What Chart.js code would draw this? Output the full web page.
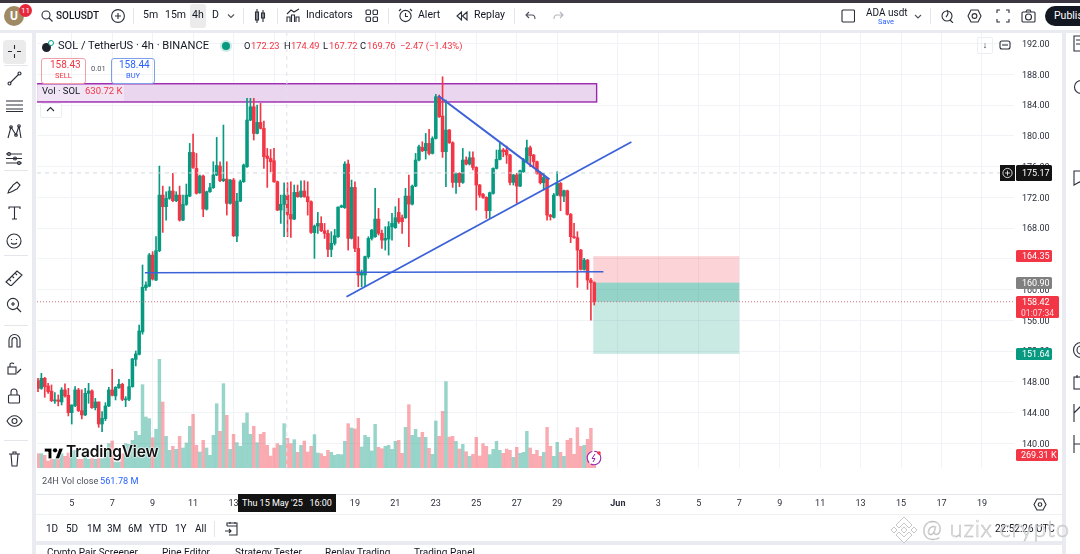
<!DOCTYPE html>
<html>
<head>
<meta charset="utf-8">
<title>SOLUSDT 4h</title>
<script src="https://cdn.jsdelivr.net/npm/chart.js@4/dist/chart.umd.min.js"></script>
<style>
  html, body { margin: 0; padding: 0; width: 1080px; height: 554px; overflow: hidden; background: #e9ebf0; font-family: Roboto, "Open Sans", sans-serif; color: #131722; }
  .panel { position: absolute; background: #fff; }
  #chart { position: absolute; left: 0; top: 0; z-index: 2; }
  .t { position: absolute; white-space: nowrap; z-index: 5; line-height: 1; }
  .ico { position: absolute; z-index: 5; fill: none; stroke: #2a2e39; stroke-width: 1.1; }
  .sep { position: absolute; width: 1px; background: #e4e6ec; z-index: 5; }
</style>
</head>
<body>
<div class="panel" style="left:0;top:0;width:1080px;height:3px;background:#3b3640"></div>
<div class="panel" style="left:0;top:3px;width:1080px;height:27px"></div>
<div class="panel" style="left:0;top:33px;width:32px;height:521px"></div>
<div class="panel" style="left:36px;top:33px;width:1026px;height:508px"></div>
<div class="panel" style="left:1066px;top:33px;width:14px;height:521px"></div>
<div class="panel" style="left:36px;top:545px;width:1026px;height:9px"></div>
<div class="panel" style="left:36px;top:494px;width:1026px;height:1px;background:#e4e6ec;z-index:3"></div>
<div class="panel" style="left:36px;top:514px;width:1026px;height:1px;background:#eef0f4;z-index:3"></div>
<div class="panel" style="left:190px;top:4px;width:16px;height:24px;background:#ebebeb;border-radius:3px"></div>
<div class="panel" style="left:3px;top:40px;width:23px;height:24px;background:#ebebeb;border-radius:4px"></div>
<canvas id="chart" width="1080" height="554"></canvas>
<div id="chrome"></div>
<script>
// SOL / TetherUS 4h, candles (bar 0 is the leftmost one)
const opens = [148.16,147.16,148.46,147.47,146.8,145.52,145.65,145.39,146.95,146.25,144.0,144.91,146.95,144.26,143.7,146.51,146.82,144.65,145.39,142.52,143.22,144.87,146.95,146.17,147.25,147.68,145.65,145.73,147.38,150.93,151.58,154.5,160.25,160.46,164.49,161.24,165.06,172.29,170.78,171.86,172.82,171.56,172.29,169.04,171.08,172.16,177.84,175.76,172.6,174.77,170.47,172.73,173.25,174.9,176.07,174.16,174.38,171.21,174.25,166.96,171.51,174.03,175.98,182.05,183.78,180.31,181.74,180.96,177.37,177.06,176.76,174.03,170.34,171.08,172.29,169.78,169.17,172.64,172.08,172.82,172.08,171.43,167.4,168.26,168.61,167.66,167.31,165.23,166.01,166.88,170.73,170.65,176.33,166.66,173.29,165.36,161.89,161.89,164.28,166.66,166.88,169.17,167.31,166.44,166.57,168.18,168.05,170.04,169.35,169.35,172.16,171.12,173.46,176.85,178.49,178.06,179.01,177.71,179.66,185.08,182.57,177.93,180.75,179.1,173.94,175.11,173.94,176.85,176.33,177.15,175.89,173.6,172.38,172.0,170.26,172.51,175.76,176.93,178.15,178.15,177.5,173.94,174.9,173.46,175.33,176.63,178.45,177.5,176.63,175.2,173.9,174.46,169.69,169.39,172.29,173.81,172.16,172.86,169.78,166.88,166.75,165.14,162.63,163.84,161.24,160.9];
const highs = [148.46,149.11,148.59,147.81,147.6,146.6,146.3,147.25,147.73,147.16,145.0,147.38,147.16,146.95,147.16,147.81,146.95,145.86,145.39,144.13,145.3,147.3,149.63,147.38,148.33,147.81,146.08,148.33,151.06,152.02,155.4,163.2,161.0,164.7,164.93,166.88,176.07,173.46,172.73,173.38,175.11,172.73,173.46,172.29,173.73,179.01,180.23,177.71,174.9,174.9,172.82,173.81,176.63,179.79,176.63,181.4,176.63,174.33,174.46,172.51,174.25,176.33,184.87,184.87,184.87,184.0,184.22,181.92,178.36,178.23,178.36,174.12,172.29,173.9,173.9,174.03,173.6,173.6,174.16,174.16,174.03,171.56,168.4,170.04,169.48,168.61,167.74,167.53,167.83,170.78,171.0,176.63,176.85,174.25,174.03,166.88,162.54,164.36,166.88,167.83,173.16,170.56,167.74,168.18,168.83,169.91,170.78,171.86,169.69,173.16,174.9,173.6,177.71,178.8,179.23,180.31,180.83,179.88,185.39,185.3,187.68,184.65,180.83,179.23,175.2,175.2,178.36,177.28,177.93,177.93,175.98,173.68,172.51,172.08,172.69,175.85,178.15,179.01,178.36,178.67,177.58,174.98,175.11,175.55,177.06,179.45,178.67,177.58,176.72,175.29,175.11,174.55,169.78,172.51,175.33,173.94,172.94,172.94,169.91,168.61,167.53,165.23,164.06,163.93,161.46,161.02];
const lows = [146.73,147.03,146.0,146.51,145.43,145.21,144.87,145.0,146.0,143.57,142.52,144.78,144.13,143.17,143.61,145.21,144.56,144.35,142.09,141.53,142.96,144.78,146.17,145.65,147.16,145.56,144.78,145.56,147.3,150.07,151.5,154.2,159.9,160.37,161.24,161.15,164.93,167.44,169.04,171.73,171.43,171.43,168.91,168.96,170.95,172.08,175.76,172.42,172.51,169.48,170.34,172.64,173.16,174.81,174.03,174.03,169.69,171.12,166.88,166.23,171.43,173.94,175.89,181.96,179.45,180.23,180.88,175.76,173.29,175.33,173.94,170.26,168.61,166.88,166.88,166.79,169.09,172.0,172.0,172.0,169.69,167.31,164.06,167.31,167.53,166.66,164.28,164.28,165.79,166.79,170.65,170.56,165.14,166.57,164.93,160.37,160.37,160.37,164.06,166.44,166.79,167.09,165.36,165.14,164.49,166.44,167.96,168.61,167.31,169.26,165.58,171.0,173.38,176.72,177.93,176.98,177.5,177.63,179.58,182.39,177.19,173.38,179.01,173.29,172.51,173.38,173.81,176.2,176.2,175.55,170.34,172.0,171.86,169.26,169.26,172.42,175.68,176.85,177.28,176.41,173.6,173.6,171.21,173.38,175.24,176.54,175.98,175.98,175.02,173.73,172.94,169.04,169.04,169.3,172.21,170.26,171.43,169.69,166.1,166.66,160.29,162.54,162.54,160.03,156.04,158.0];
const closes = [147.16,148.46,147.38,146.73,145.56,145.65,145.47,146.95,146.17,144.0,145.0,146.95,144.26,143.7,146.51,146.82,144.65,145.39,142.52,143.26,144.87,146.95,146.25,147.3,147.68,145.73,145.73,147.38,150.98,151.63,154.62,160.3,160.6,164.49,161.37,165.06,172.29,170.78,171.86,172.82,171.56,172.29,169.04,171.08,172.29,177.84,175.89,172.51,174.77,170.47,172.73,173.25,174.9,176.15,174.16,174.38,171.21,174.25,167.01,171.51,174.03,176.2,182.05,183.78,180.31,181.74,180.96,177.28,177.06,176.63,174.03,170.34,171.08,172.29,169.78,169.17,172.64,172.08,172.82,172.08,171.43,167.44,168.26,168.61,167.66,167.31,165.23,166.01,167.01,170.73,170.91,176.33,166.66,173.29,165.36,161.89,162.2,164.28,166.66,167.74,169.17,167.31,166.44,166.66,168.18,168.61,169.35,168.83,168.83,172.16,171.12,173.46,176.85,178.58,178.06,179.01,177.71,179.66,185.08,182.48,177.93,180.75,179.1,173.94,175.11,173.94,176.85,176.33,177.15,175.89,173.6,172.29,172.0,170.26,172.6,175.76,176.93,178.15,177.93,177.5,173.94,174.9,173.46,175.46,176.85,178.45,177.41,176.63,175.11,173.9,174.59,169.69,169.48,172.29,173.81,172.16,172.86,169.78,166.88,166.75,165.14,162.63,163.84,161.24,160.9,158.42];
// volume in thousands of SOL
const volumes = [305,305,269,149,184,184,184,305,248,319,355,376,184,184,376,184,199,184,199,199,411,518,574,128,128,305,518,503,588,780,695,1773,1085,1049,645,822,2311,1404,674,376,461,397,674,425,532,886,1141,482,340,588,425,269,695,1368,780,1794,1120,397,716,539,461,957,1170,716,886,539,716,759,482,255,425,518,482,943,631,518,603,333,482,574,340,461,709,319,305,248,376,333,269,291,284,567,943,851,830,1056,447,695,652,362,929,440,411,461,482,397,567,588,312,865,1347,695,822,652,759,652,418,291,1000,674,1205,1836,659,674,567,404,503,347,248,291,652,255,518,461,284,397,567,376,312,404,376,227,440,312,333,780,425,291,376,248,333,865,461,248,546,333,248,588,631,291,858,461,482,610,844,269];

// axis ticks: bars where a day starts, every second day
const dayTickBars = [10,22,34,46,58,70,82,94,106,118,130,142,154,172,184,196,208,220,232,244,256,268,280];
const dayTickLabels = ['5','7','9','11','13','15','17','19','21','23','25','27','29','Jun','3','5','7','9','11','13','15','17','19'];
const priceTicks = [192,188,184,180,176,172,168,164,160,156,152,148,144,140];

// drawings on the chart, in bar index / price
const resistanceBox = { from: -1, to: 165.7, top: 186.77, bottom: 184.4 };
const shortSide = { from: 164.7, to: 208, stop: 164.35, entry: 160.9, target: 151.64 };
const lastPrice = 158.42;
const crosshairPrice = 175.17;
const crosshairBar = 73.8;
const supportLine = [{ x: 31.7, y: 162.2 }, { x: 167.7, y: 162.33 }];
const risingLine = [{ x: 91.5, y: 159.07 }, { x: 176, y: 179.19 }];
const fallingLine = [{ x: 118.8, y: 185.17 }, { x: 151.7, y: 174.34 }];
const priceTags = [
  { value: 175.17, text: '175.17', bg: '#131313' },
  { value: 164.35, text: '164.35', bg: '#f23645' },
  { value: 160.9, text: '160.90', bg: '#808080' },
  { value: 151.64, text: '151.64', bg: '#089981' },
];

const xMin = -0.3, xMax = 289.5, yMin = 136.8, yMax = 193.37, volMax = 9252;
const UP = '#089981', DOWN = '#f23645';
const bars = closes.map((c, i) => i);
const isUp = (i) => closes[i] >= opens[i];

const drawingsPlugin = {
  id: 'drawings',
  beforeDatasetsDraw(chart) {
    const { ctx, scales: { x, y }, chartArea: a } = chart;
    ctx.save();
    ctx.beginPath();
    ctx.rect(a.left, a.top, a.width, a.height);
    ctx.clip();
    const box = (b, fill, stroke) => {
      const x0 = x.getPixelForValue(b.from), x1 = x.getPixelForValue(b.to);
      const y0 = y.getPixelForValue(b.top), y1 = y.getPixelForValue(b.bottom);
      ctx.fillStyle = fill;
      ctx.fillRect(x0, y0, x1 - x0, y1 - y0);
      if (stroke) {
        ctx.strokeStyle = stroke;
        ctx.lineWidth = 1.4;
        ctx.strokeRect(x0, y0, x1 - x0, y1 - y0);
      }
    };
    box(resistanceBox, '#ead6ef', '#9c27b0');
    box({ from: shortSide.from, to: shortSide.to, top: shortSide.stop, bottom: shortSide.entry }, 'rgba(242,54,69,0.22)');
    box({ from: shortSide.from, to: shortSide.to, top: shortSide.entry, bottom: shortSide.target }, 'rgba(8,153,129,0.22)');
    box({ from: shortSide.from, to: shortSide.to, top: shortSide.entry, bottom: lastPrice }, 'rgba(8,153,129,0.28)');
    ctx.restore();
  },
  afterDraw(chart) {
    const { ctx, scales: { y } } = chart;
    const tag = (value, text, bg, w, h, sub) => {
      const cy = Math.round(y.getPixelForValue(value));
      const top = sub ? cy - 6 : cy - h / 2;
      ctx.fillStyle = bg;
      ctx.beginPath();
      ctx.roundRect(1016, top, w, h, 1.5);
      ctx.fill();
      ctx.fillStyle = '#fff';
      ctx.font = '9px Roboto';
      ctx.textAlign = 'left';
      ctx.textBaseline = 'middle';
      ctx.fillText(text, 1022, cy + 0.5);
      if (sub) {
        ctx.font = '8.6px Roboto';
        ctx.fillStyle = '#ffd9dc';
        ctx.fillText(sub, 1021, cy + 11.5);
      }
    };
    priceTags.forEach((t) => tag(t.value, t.text, t.bg, 36, t.value === crosshairPrice ? 16 : 12));
    tag(lastPrice, '158.42', DOWN, 43, 22, '01:07:34');
    // the crosshair tag has a small plus button on its left
    const cy = Math.round(y.getPixelForValue(crosshairPrice));
    ctx.fillStyle = '#131313';
    ctx.fillRect(1000, cy - 8, 15, 16);
    ctx.strokeStyle = '#fff';
    ctx.lineWidth = 0.8;
    ctx.beginPath();
    ctx.arc(1007.5, cy, 4.6, 0, Math.PI * 2);
    ctx.moveTo(1005, cy);
    ctx.lineTo(1010, cy);
    ctx.moveTo(1007.5, cy - 2.5);
    ctx.lineTo(1007.5, cy + 2.5);
    ctx.stroke();
    // volume of the last bar
    ctx.fillStyle = DOWN;
    ctx.beginPath();
    ctx.roundRect(1016, 449, 42, 12, 1.5);
    ctx.fill();
    ctx.fillStyle = '#fff';
    ctx.font = '9px Roboto';
    ctx.fillText('269.31 K', 1021, 455.5);
  },
};

new Chart(document.getElementById('chart'), {
  type: 'bar',
  data: {
    datasets: [
      {
        data: bars.map((i) => ({ x: i, y: volumes[i] })),
        yAxisID: 'yVol',
        barThickness: 2.8,
        backgroundColor: bars.map((i) => (isUp(i) ? 'rgba(8,153,129,0.42)' : 'rgba(242,54,69,0.42)')),
        order: 9,
      },
      {
        data: bars.map((i) => ({ x: i, y: [lows[i], highs[i]] })),
        barThickness: 1,
        backgroundColor: bars.map((i) => (isUp(i) ? UP : DOWN)),
        order: 7,
      },
      {
        data: bars.map((i) => ({ x: i, y: [Math.min(opens[i], closes[i]), Math.max(opens[i], closes[i])] })),
        barThickness: 2.9,
        minBarLength: 1,
        backgroundColor: bars.map((i) => (isUp(i) ? UP : DOWN)),
        order: 6,
      },
      { type: 'line', data: [{ x: xMin, y: crosshairPrice }, { x: xMax, y: crosshairPrice }], borderColor: '#d4d6dc', borderWidth: 1, borderDash: [4, 4], pointRadius: 0, order: 5 },
      { type: 'line', data: [{ x: crosshairBar, y: yMin }, { x: crosshairBar, y: yMax }], borderColor: '#e0e2e6', borderWidth: 1, borderDash: [4, 4], pointRadius: 0, order: 5 },
      { type: 'line', data: [{ x: xMin, y: lastPrice }, { x: xMax, y: lastPrice }], borderColor: '#d0707c', borderWidth: 1, borderDash: [1, 2], pointRadius: 0, order: 4 },
      { type: 'line', data: supportLine, borderColor: '#3b62d8', borderWidth: 1.4, pointRadius: 0, order: 3 },
      { type: 'line', data: risingLine, borderColor: '#3b62d8', borderWidth: 1.8, pointRadius: 0, order: 2 },
      { type: 'line', data: fallingLine, borderColor: '#3b62d8', borderWidth: 2, pointRadius: 0, order: 1 },
    ],
  },
  options: {
    responsive: false,
    animation: false,
    devicePixelRatio: 1,
    layout: { padding: { left: 37, top: 33, right: 0, bottom: 0 } },
    plugins: { legend: { display: false }, tooltip: { enabled: false } },
    datasets: { bar: { grouped: false } },
    scales: {
      x: {
        type: 'linear',
        min: xMin,
        max: xMax,
        offset: false,
        afterBuildTicks: (s) => { s.ticks = dayTickBars.map((v) => ({ value: v })); },
        afterFit: (s) => { s.height = 86; },
        grid: { color: '#f2f3f6', drawTicks: false, offset: false },
        border: { display: false },
        ticks: {
          autoSkip: false,
          maxRotation: 0,
          padding: 30,
          color: '#2a2e39',
          font: (c) => ({ family: 'Roboto', size: 9, weight: dayTickLabels[c.index] === 'Jun' ? 'bold' : 'normal' }),
          callback: (v, i) => dayTickLabels[i],
        },
      },
      y: {
        position: 'right',
        min: yMin,
        max: yMax,
        afterBuildTicks: (s) => { s.ticks = priceTicks.map((v) => ({ value: v })); },
        afterFit: (s) => { s.width = 66; },
        grid: { color: '#f2f3f6', drawTicks: false },
        border: { display: false },
        ticks: { padding: 8, labelOffset: 1, color: '#2a2e39', font: { family: 'Roboto', size: 9 }, callback: (v) => v.toFixed(2) },
      },
      yVol: { display: false, min: 0, max: volMax },
    },
  },
  plugins: [drawingsPlugin],
});

// page furniture around the chart
const texts = [
  ['SOLUSDT', 56, 16, 10, '#131722', 'font-weight:500'],
  ['5m', 143, 16, 10.5], ['15m', 165, 16, 10.5], ['4h', 192, 16, 10.5], ['D', 212, 16, 10.5],
  ['Indicators', 306, 16, 10.5], ['Alert', 418, 16, 10.5], ['Replay', 474, 16, 10.5],
  ['ADA usdt', 866, 13, 10], ['Save', 878, 22, 7.5, '#2962ff'],
  ['SOL / TetherUS · 4h · BINANCE', 58, 46, 11.1],
  ['O', 244, 46, 9.3], ['172.23', 251, 46, 9.3, DOWN], ['H', 284, 46, 9.3], ['174.49', 291, 46, 9.3, DOWN],
  ['L', 323, 46, 9.3], ['167.72', 329, 46, 9.3, DOWN], ['C', 360, 46, 9.3], ['169.76', 367, 46, 9.3, DOWN],
  ['−2.47 (−1.43%)', 400, 46, 9.3, DOWN],
  ['158.43', 50, 65, 10, DOWN], ['SELL', 55, 76, 7.5, DOWN], ['0.01', 91, 69, 7.5, '#50535e'],
  ['158.44', 119, 65, 10, '#2962ff'], ['BUY', 126, 76, 7.5, '#2962ff'],
  ['Vol · SOL', 42, 91, 9.5], ['630.72 K', 85, 91, 9.5, DOWN],
  ['24H Vol close', 42, 481, 9.2, '#50535e'], ['561.78 M', 100, 481, 9.2, '#2962ff'],
  ['1D', 46, 529, 10], ['5D', 66, 529, 10], ['1M', 87, 529, 10], ['3M', 107, 529, 10], ['6M', 128, 529, 10],
  ['YTD', 149, 529, 10], ['1Y', 175, 529, 10], ['All', 195, 529, 10],
  ['22:52:26 UTC', 995, 529, 10],
  ['Crypto Pair Screener', 47, 553, 10], ['Pine Editor', 162, 553, 10], ['Strategy Tester', 235, 553, 10],
  ['Replay Trading', 325, 553, 10], ['Trading Panel', 414, 553, 10],
];
const chrome = document.getElementById('chrome');
const addText = ([text, x, y, size, color = '#131722', extra = '']) => {
  const el = document.createElement('div');
  el.className = 't';
  el.textContent = text;
  el.style.cssText = `left:${x}px;top:${y - size * 0.55}px;font-size:${size}px;color:${color};${extra}`;
  chrome.appendChild(el);
  return el;
};
texts.forEach(addText);

const addHtml = (html) => chrome.insertAdjacentHTML('beforeend', html);
const icon = (x, y, w, h, body, extra = '') =>
  addHtml(`<svg class="ico" style="left:${x}px;top:${y}px;${extra}" width="${w}" height="${h}" viewBox="0 0 ${w} ${h}">${body}</svg>`);

// avatar and badge
addHtml('<div class="t" style="left:4px;top:6px;width:20px;height:20px;border-radius:50%;background:#a08a63;color:#fff;font:bold 12px/20px Roboto;text-align:center">U</div>');
addHtml('<div class="t" style="left:19px;top:4px;width:13px;height:13px;border-radius:50%;background:#e8273d;color:#fff;font:8px/13px Roboto;text-align:center">11</div>');
// toolbar separators
[133, 243, 277, 388, 514, 930].forEach((x) => addHtml(`<div class="sep" style="left:${x}px;top:8px;height:16px"></div>`));
// top toolbar icons
icon(41, 10, 12, 12, '<circle cx="5" cy="5" r="4"/><path d="M8 8l3.5 3.5"/>');
icon(111, 9, 14, 14, '<circle cx="7" cy="7" r="6.4"/><path d="M4 7h6M7 4v6"/>');
icon(226, 13, 10, 6, '<path d="M2 1.5l3 3 3-3"/>', 'stroke:#50535e');
icon(254, 9, 12, 14, '<rect x="1.5" y="3" width="3" height="8"/><path d="M3 0v14M9 1v12"/><rect x="7.5" y="4" width="3" height="5"/>');
icon(286, 8, 14, 15, '<path d="M1 14V9h3v5M5.5 14V7h3v7M10 14V9h3v5M1 6l4-4 3 2 5-3"/>');
icon(365, 9, 13, 14, '<rect x="1" y="1" width="4.5" height="4.5" rx="1"/><rect x="8" y="1" width="4.5" height="4.5" rx="1"/><rect x="1" y="8" width="4.5" height="4.5" rx="1"/><rect x="8" y="8" width="4.5" height="4.5" rx="1"/>');
icon(398, 8, 15, 16, '<circle cx="7.5" cy="8" r="5.6"/><path d="M7.5 5v3.5h2.5M1 3l2-2M14 3l-2-2"/>');
icon(456, 11, 12, 10, '<path d="M5.5 1L1 5l4.5 4zM11 1L6.5 5l4.5 4z"/>');
icon(525, 11, 11, 9, '<path d="M4 1L1 4l3 3M1 4h6c2 0 3 1 3 4"/>', 'stroke:#50535e');
icon(553, 11, 11, 9, '<path d="M7 1l3 3-3 3M10 4H4C2 4 1 5 1 8"/>', 'stroke:#b2b5be');
icon(841, 9, 14, 14, '<rect x="1" y="1" width="12.5" height="12" rx="1"/>');
icon(914, 14, 9, 5, '<path d="M1 1l3 3 3-3"/>', 'stroke:#50535e');
icon(940, 8, 14, 15, '<circle cx="7" cy="8" r="5"/><path d="M7 2c2 3 1 5-1 7M10 12l3 3"/>');
icon(967, 9, 15, 14, '<path d="M4 1h7l3 6-3 6H4L1 7z"/><circle cx="7.5" cy="7" r="2.4"/>');
icon(996, 9, 14, 14, '<path d="M1 4V1h3M10 1h3v3M13 10v3h-3M4 13H1v-3"/>');
icon(1021, 9, 15, 14, '<rect x="1" y="3" width="13" height="10" rx="1"/><circle cx="7.5" cy="8" r="3"/><path d="M5 3l1-2h3l1 2"/>');
addHtml('<div class="t" style="left:1045px;top:6px;width:50px;height:20px;border-radius:10px;background:#131722;color:#fff;font:10.5px/20px Roboto;padding-left:9px">Publish</div>');
// chart buttons
addHtml('<div class="t" style="left:977px;top:37px;width:14px;height:15px;border:1px solid #eceef2;border-radius:2px;font:9px/15px Roboto;text-align:center">↓</div>');
icon(997, 37, 16, 16, '<rect x="3" y="4" width="10" height="8" rx="2"/><path d="M5 8h6"/>', 'stroke:#2a2e39');
// sell / buy boxes and the collapse button
addHtml('<div class="t" style="left:41px;top:58px;width:43px;height:24px;border:1px solid #f0a0a8;border-radius:3px"></div>');
addHtml('<div class="t" style="left:111px;top:58px;width:42px;height:24px;border:1px solid #7f9ee8;border-radius:3px"></div>');
addHtml('<div class="t" style="left:40px;top:103px;width:20px;height:13px;border:1px solid #eceef2;border-radius:2px;background:#fff"></div>');
icon(46, 106, 9, 6, '<path d="M1 5l3.5-3.5L8 5"/>');
addHtml('<div class="t" style="left:38px;top:85px;width:86px;height:16px;background:rgba(255,255,255,0.35);z-index:4"></div>');
// coin and status dots
addHtml('<div class="t" style="left:42px;top:43px;width:9px;height:9px;border-radius:50%;background:#1e222d"></div>');
addHtml('<div class="t" style="left:48px;top:40px;width:6px;height:6px;border-radius:50%;border:1.2px solid #089981;box-sizing:border-box;background:#fff"></div>');
addHtml('<div class="t" style="left:222px;top:42px;width:8px;height:8px;border-radius:50%;background:#089981;box-shadow:0 0 0 2px #cfe9e4"></div>');
// TradingView logo
addHtml('<svg class="t" style="left:44px;top:446px" width="20" height="15" viewBox="0 0 36 28"><path fill="#000" stroke="#fff" stroke-width="1.5" d="M14 24H7V11H0V4h14zM28 24h-8l7.5-20h8z"/><circle cx="20" cy="8" r="4" fill="#000"/></svg>');
addText(['TradingView', 66, 453, 15.5, '#111', 'font-family:Inter,Roboto;font-weight:600;letter-spacing:-0.2px;text-shadow:0 0 2px #fff,0 0 2px #fff,0 0 2px #fff']);
// lightning badge on the last bar
addHtml('<svg class="t" style="left:586px;top:450px" width="16" height="16" viewBox="0 0 16 16"><circle cx="8" cy="8" r="6.8" fill="#fff" stroke="#9c27b0" stroke-width="1.1" stroke-dasharray="14 2"/><path d="M9 4L6 8.5h3L7 12" fill="none" stroke="#9c27b0"/><circle cx="13" cy="3" r="1.8" fill="#f23645"/></svg>');
// crosshair date label
addHtml(`<div class="t" style="left:238px;top:494px;width:98px;height:18px;background:#131313;color:#fff;font:9px/18px Roboto;text-align:center;white-space:pre;z-index:6">Thu 15 May '25   16:00</div>`);
// settings hex on the time axis, range separator, calendar
icon(1033, 498, 14, 13, '<path d="M4 1h6l3 5.5-3 5.5H4L1 6.5z"/><circle cx="7" cy="6.5" r="1.8"/>');
addHtml('<div class="sep" style="left:214px;top:521px;height:16px"></div>');
icon(224, 521, 15, 15, '<path d="M3 5V2h10v12H5M3 5h10M6 1v2M11 1v2M1 10h6M5 8l2 2-2 2"/>');
// left toolbar
icon(7, 44, 15, 15, '<path d="M7.5 1v4M7.5 10v4M1 7.5h4M10 7.5h4"/>');
icon(7, 71, 15, 15, '<path d="M3 12L12 3"/><circle cx="2.5" cy="12.5" r="1.5"/><circle cx="12.5" cy="2.5" r="1.5"/>');
icon(5, 99, 19, 13, '<path d="M1 2h17M1 6h17M1 10h17M1 12.5h17"/>');
icon(6, 124, 17, 16, '<path d="M2 14L5 3l5 8 3-9 2 12"/><circle cx="5" cy="3" r="1.3"/><circle cx="10" cy="11" r="1.3"/><circle cx="13" cy="2" r="1.3"/>');
icon(5, 152, 18, 13, '<path d="M1 2h16M1 6.5h16M1 11h16"/><circle cx="4" cy="2" r="1.5"/><circle cx="10" cy="6.5" r="1.5"/><circle cx="14" cy="11" r="1.5"/>');
icon(6, 180, 16, 15, '<path d="M2 13c1-5 4-5 5-8l4-3 3 3-3 4c-3 1-4 3-9 4z"/>');
icon(8, 206, 13, 14, '<path d="M1 3V1h11v2M6.5 1v12M4 13h5"/>');
icon(6, 233, 16, 16, '<circle cx="8" cy="8" r="7"/><path d="M5 10c1.5 1.5 4.5 1.5 6 0M5.5 6v1M10.5 6v1"/>');
icon(5, 270, 18, 16, '<path d="M1 12L12 1l5 4-11 11zM4 9l2 2M7 6l2 2M10 3l2 2"/>');
icon(6, 297, 16, 16, '<circle cx="7" cy="7" r="5.6"/><path d="M11 11l4 4M5 7h4M7 5v4"/>');
icon(7, 333, 15, 16, '<path d="M2 14V7a5.5 5.5 0 0 1 11 0v7h-3V7a2.5 2.5 0 0 0-5 0v7z"/>');
icon(6, 360, 16, 16, '<rect x="2" y="7" width="8" height="7"/><path d="M4 7V4a2.5 2.5 0 0 1 4 0M11 13l4-4"/>');
icon(7, 388, 14, 16, '<rect x="1.5" y="7" width="11" height="8" rx="1"/><path d="M4 7V4a3 3 0 0 1 6 0v3"/>');
icon(6, 414, 17, 14, '<path d="M1 7c4-7 11-7 15 0-4 7-11 7-15 0z"/><circle cx="8.5" cy="7" r="2.5"/>');
icon(8, 451, 13, 16, '<path d="M1 3h11M3 3l1 12h5l1-12M5 3V1h3v2"/>');
[65, 170, 255, 325, 440].forEach((y) => addHtml(`<div class="sep" style="left:4px;top:${y}px;width:24px;height:1px"></div>`));
// right sidebar, cut by the window edge
icon(1073, 35, 14, 17, '<path d="M1 1h12v15H1zM3 5h8M3 9h8"/>');
icon(1073, 78, 14, 18, '<circle cx="8" cy="9" r="6.5"/>');
icon(1073, 170, 14, 16, '<path d="M1 1h11v14l-5.5-3L1 15z"/>');
icon(1072, 341, 14, 18, '<circle cx="9" cy="9" r="7.5"/><circle cx="9" cy="9" r="4"/>');
icon(1073, 374, 14, 16, '<rect x="1" y="3" width="13" height="12"/><path d="M4 1v3"/>');
icon(1073, 403, 14, 20, '<path d="M1 1v18M1 10l8-8"/>');
icon(1073, 434, 14, 20, '<path d="M1 1v18M1 10h12"/>');
// watermark over the bottom strip
addHtml('<svg class="t" style="left:889px;top:515px;z-index:7" width="30" height="30" viewBox="0 0 30 30"><path d="M15 2l8 8-3 3-5-5-5 5-3-3zM5 12l3 3-3 3-3-3zM25 12l3 3-3 3-3-3zM15 12l3 3-3 3-3-3zM15 28l-8-8 3-3 5 5 5-5 3 3z" fill="#fff" stroke="#c9c9c9"/></svg>');
addText(['@ uzix crypto', 922, 529, 24, 'rgba(255,255,255,0.65)', 'font-family:Lato,Roboto;font-weight:300;letter-spacing:0.6px;z-index:7;-webkit-text-stroke:0.6px #bdbdbd']);
</script>
</body>
</html>
